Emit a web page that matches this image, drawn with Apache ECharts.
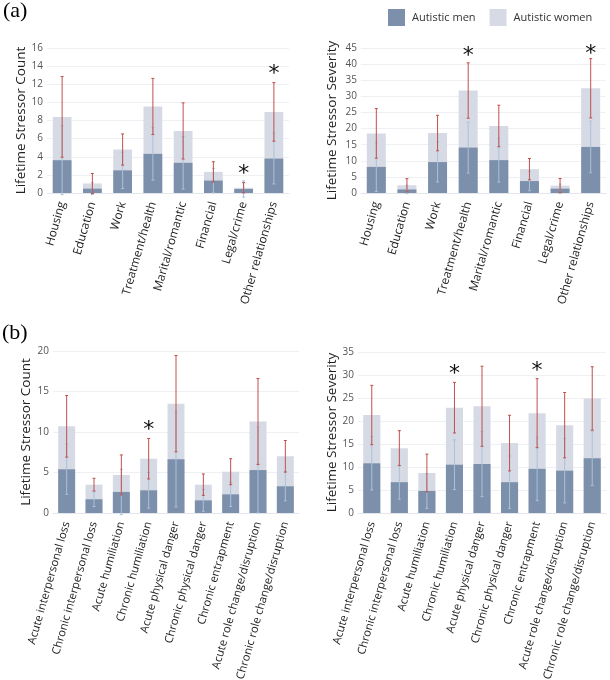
<!DOCTYPE html>
<html>
<head>
<meta charset="utf-8">
<script src="https://cdn.jsdelivr.net/npm/echarts@6/dist/echarts.min.js"></script>
<style>
  html, body { margin: 0; padding: 0; background: #fff; }
  #chart { width: 610px; height: 680px; }
</style>
</head>
<body>
<div id="chart"></div>
<script>
// categories
var catA = ['Housing', 'Education', 'Work', 'Treatment/health', 'Marital/romantic', 'Financial', 'Legal/crime', 'Other relationships'];
var catB = ['Acute interpersonal loss', 'Chronic interpersonal loss', 'Acute humiliation', 'Chronic humiliation', 'Acute physical danger', 'Chronic physical danger', 'Chronic entrapment', 'Acute role change/disruption', 'Chronic role change/disruption'];

// (a) count
var countAMen = [3.62, 0.48, 2.5, 4.32, 3.33, 1.37, 0.44, 3.8];
var countAMenSd = [3.8, 0.65, 2.0, 2.9, 2.9, 1.35, 0.9, 2.8];
var countAWomen = [8.4, 1.05, 4.8, 9.55, 6.85, 2.33, 0.58, 8.95];
var countAWomenSd = [4.45, 1.1, 1.72, 3.1, 3.1, 1.12, 0.57, 3.23];
var countAStars = [null, null, null, null, null, null, 2.6, 13.7];

// (a) severity
var sevAMen = [8.1, 1.1, 9.6, 14.1, 10.2, 3.7, 1.35, 14.3];
var sevAMenSd = [7.6, 1.3, 6.2, 7.9, 6.8, 3.0, 1.4, 8.0];
var sevAWomen = [18.5, 2.4, 18.6, 31.8, 20.8, 7.4, 2.3, 32.5];
var sevAWomenSd = [7.7, 2.05, 5.5, 8.6, 6.45, 3.3, 2.2, 9.2];
var sevAStars = [null, null, null, 44, null, null, null, 44.5];

// (b) count
var countBMen = [5.4, 1.7, 2.6, 2.8, 6.65, 1.56, 2.3, 5.3, 3.3];
var countBMenSd = [3.1, 0.9, 2.8, 2.2, 5.9, 1.35, 1.5, 5.3, 1.8];
var countBWomen = [10.7, 3.5, 4.7, 6.7, 13.5, 3.5, 5.1, 11.3, 7.0];
var countBWomenSd = [3.8, 0.78, 2.47, 2.5, 5.95, 1.32, 1.6, 5.3, 1.95];
var countBStars = [null, null, null, 10.8, null, null, null, null, null];

// (b) severity
var sevBMen = [10.8, 6.7, 4.8, 10.5, 10.65, 6.7, 9.6, 9.2, 11.9];
var sevBMenSd = [5.8, 3.7, 3.8, 5.4, 7.1, 5.7, 6.9, 7.0, 5.9];
var sevBWomen = [21.3, 14.1, 8.7, 22.9, 23.2, 15.2, 21.7, 19.1, 24.9];
var sevBWomenSd = [6.45, 3.8, 4.1, 5.5, 8.7, 6.05, 7.5, 7.1, 6.9];
var sevBStars = [null, null, null, 31.2, null, null, 31.8, null, null];

var font = 'Open Sans';
var menColor = '#7c90ac';
var womenColor = '#d6dae4';
var menErrColor = '#a9c2da';
var womenErrColor = '#c0504d';

var panels = [
  { cat: catA, men: countAMen, menSd: countAMenSd, women: countAWomen, womenSd: countAWomenSd, stars: countAStars,
    max: 16, interval: 2, name: 'Lifetime Stressor Count', nameGap: 14, labelSize: 11.8,
    grid: { left: 47, top: 48, width: 242, height: 145 } },
  { cat: catA, men: sevAMen, menSd: sevAMenSd, women: sevAWomen, womenSd: sevAWomenSd, stars: sevAStars,
    max: 45, interval: 5, name: 'Lifetime Stressor Severity', nameGap: 22, labelSize: 11.8,
    grid: { left: 361, top: 48, width: 245, height: 145 } },
  { cat: catB, men: countBMen, menSd: countBMenSd, women: countBWomen, womenSd: countBWomenSd, stars: countBStars,
    max: 20, interval: 5, name: 'Lifetime Stressor Count', nameGap: 20, labelSize: 11.3,
    grid: { left: 53, top: 351, width: 246, height: 162 } },
  { cat: catB, men: sevBMen, menSd: sevBMenSd, women: sevBWomen, womenSd: sevBWomenSd, stars: sevBStars,
    max: 35, interval: 5, name: 'Lifetime Stressor Severity', nameGap: 19, labelSize: 11.3,
    grid: { left: 358, top: 352, width: 248, height: 161 } }
];

function errorRender(color) {
  return function (params, api) {
    var x = api.value(0), m = api.value(1), s = api.value(2);
    var hi = api.coord([x, m + s]);
    var lo = api.coord([x, m - s]);
    var st = { stroke: color, lineWidth: 1 };
    return {
      type: 'group',
      children: [
        { type: 'line', shape: { x1: hi[0], y1: hi[1], x2: lo[0], y2: lo[1] }, style: st },
        { type: 'line', shape: { x1: hi[0] - 1.5, y1: hi[1], x2: hi[0] + 1.5, y2: hi[1] }, style: st },
        { type: 'line', shape: { x1: lo[0] - 1.5, y1: lo[1], x2: lo[0] + 1.5, y2: lo[1] }, style: st }
      ]
    };
  };
}

function starRender(params, api) {
  var p = api.coord([api.value(0), api.value(1)]);
  return {
    type: 'text',
    x: p[0], y: p[1] + 5,
    style: { text: '*', fill: '#111', font: '22px "DejaVu Sans"', align: 'center', verticalAlign: 'middle' }
  };
}

var grids = [], xAxes = [], yAxes = [], series = [];
panels.forEach(function (p, i) {
  var g = p.grid;
  grids.push({ left: g.left, top: g.top, width: g.width, height: g.height, outerBoundsMode: 'none', containLabel: false });
  xAxes.push({
    type: 'category', gridIndex: i, data: p.cat,
    axisLine: { lineStyle: { color: '#e3e6ec' } },
    axisTick: { show: false },
    axisLabel: { rotate: 74, margin: 9, color: '#222', fontFamily: font, fontSize: p.labelSize, interval: 0 }
  });
  yAxes.push({
    type: 'value', gridIndex: i, min: 0, max: p.max, interval: p.interval,
    name: p.name, nameLocation: 'middle', nameGap: p.nameGap,
    nameTextStyle: { fontFamily: font, fontSize: 13.5, color: '#222' },
    axisLine: { show: false }, axisTick: { show: false },
    axisLabel: { color: '#555', fontFamily: font, fontSize: 10, margin: 4 },
    splitLine: { lineStyle: { color: '#eef0f4' } }
  });
  series.push({
    name: 'Autistic women', type: 'bar', xAxisIndex: i, yAxisIndex: i,
    data: p.women, barWidth: '62%', barGap: '-100%',
    itemStyle: { color: womenColor }, z: 1, silent: true
  });
  series.push({
    name: 'Autistic men', type: 'bar', xAxisIndex: i, yAxisIndex: i,
    data: p.men, barWidth: '62%', barGap: '-100%',
    itemStyle: { color: menColor }, z: 2, silent: true
  });
  series.push({
    type: 'custom', xAxisIndex: i, yAxisIndex: i, z: 3, silent: true,
    renderItem: errorRender(menErrColor),
    data: p.men.map(function (v, k) { return [k, v, p.menSd[k]]; })
  });
  series.push({
    type: 'custom', xAxisIndex: i, yAxisIndex: i, z: 4, silent: true,
    renderItem: errorRender(womenErrColor),
    data: p.women.map(function (v, k) { return [k, v, p.womenSd[k]]; })
  });
  series.push({
    type: 'custom', xAxisIndex: i, yAxisIndex: i, z: 5, silent: true,
    renderItem: starRender,
    data: p.stars.map(function (v, k) { return v == null ? null : [k, v]; }).filter(function (d) { return d; })
  });
});

var chart = echarts.init(document.getElementById('chart'));
chart.setOption({
  animation: false,
  legend: {
    data: ['Autistic men', 'Autistic women'],
    left: 383, top: 4, itemWidth: 17, itemHeight: 17, itemGap: 14,
    icon: 'rect',
    textStyle: { fontFamily: font, fontSize: 11, color: '#333', padding: [0, 0, 0, 2] }
  },
  graphic: [
    { type: 'text', left: 3, top: 0, style: { text: '(a)', font: '22px "Liberation Serif"', fill: '#000' } },
    { type: 'text', left: 2, top: 322, style: { text: '(b)', font: '22px "Liberation Serif"', fill: '#000' } }
  ],
  grid: grids,
  xAxis: xAxes,
  yAxis: yAxes,
  series: series
});
</script>
</body>
</html>
